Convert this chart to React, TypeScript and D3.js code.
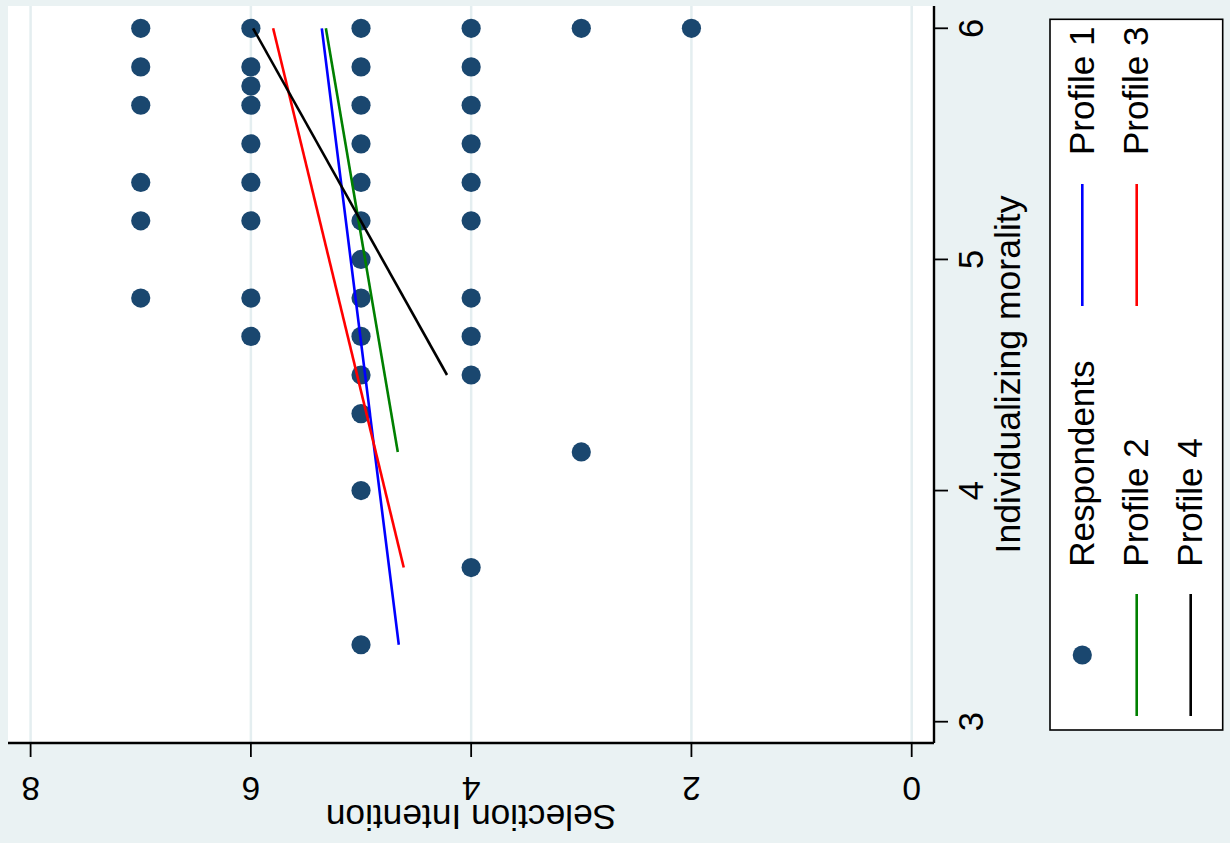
import React from "react";
import * as d3 from "d3";

const WIDTH = 1230;
const HEIGHT = 843;
const FONT = "'Liberation Sans', Arial, Helvetica, sans-serif";

// Respondents, grouped by selection intention score
const selectionLevels = [7, 6, 5, 4, 3, 2];
const moralityByLevel: number[][] = [
  [6, 5.833, 5.667, 5.333, 5.167, 4.833],
  [6, 5.833, 5.75, 5.667, 5.5, 5.333, 5.167, 4.833, 4.667],
  [6, 5.833, 5.667, 5.5, 5.333, 5.167, 5, 4.833, 4.667, 4.5, 4.333, 4, 3.333],
  [6, 5.833, 5.667, 5.5, 5.333, 5.167, 4.833, 4.667, 4.5, 3.667],
  [6, 4.167],
  [6],
];

// Fitted lines per profile: [morality, selection] at each end
const profileNames = ["Profile 1", "Profile 2", "Profile 3", "Profile 4"];
const profileColors = ["#0000ff", "#008000", "#ff0000", "#000000"];
const profileFits: [number, number][][] = [
  [[3.333, 4.657], [6, 5.356]],
  [[4.167, 4.666], [6, 5.319]],
  [[3.667, 4.612], [6, 5.798]],
  [[4.5, 4.219], [6, 5.98]],
];

const selectionTicks = [8, 6, 4, 2, 0];
const moralityTicks = [3, 4, 5, 6];

const BG = "#eaf2f3";
const GRID = "#e4eef0";
const MARKER = "#1a476f";

export default function App() {
  // plot region (rotated layout: selection runs right-to-left, morality bottom-to-top)
  const region = { left: 8, right: 934, top: 6, bottom: 743 };
  const x = d3.scaleLinear().domain([8, 0]).range([30.6, 911.7]);
  const y = d3.scaleLinear().domain([3, 6]).range([721.7, 28.3]);

  const respondents = selectionLevels.flatMap((s, i) =>
    moralityByLevel[i].map((m) => ({ s, m }))
  );

  const line = d3
    .line<[number, number]>()
    .x((d) => x(d[1]))
    .y((d) => y(d[0]));

  const midX = (region.left + region.right) / 2;
  const midY = (region.top + region.bottom) / 2;

  // legend: three columns, two slots each (top slot / bottom slot)
  const legend = { left: 1050, top: 19.3, right: 1222.7, bottom: 730 };
  const colX = [1082.3, 1136.7, 1190.7];
  const legendItems = [
    { label: "Respondents", col: 0, slot: 1, kind: "dot", color: MARKER },
    { label: profileNames[0], col: 0, slot: 0, kind: "line", color: profileColors[0] },
    { label: profileNames[1], col: 1, slot: 1, kind: "line", color: profileColors[1] },
    { label: profileNames[2], col: 1, slot: 0, kind: "line", color: profileColors[2] },
    { label: profileNames[3], col: 2, slot: 1, kind: "line", color: profileColors[3] },
  ];
  const slotKey = [
    { y0: 306, y1: 184, textY: 155 },
    { y0: 716, y1: 594, textY: 566.7 },
  ];

  return (
    <svg
      width={WIDTH}
      height={HEIGHT}
      style={{ position: "absolute", left: 0, top: 0, display: "block" }}
      fontFamily={FONT}
    >
      <rect x={0} y={0} width={WIDTH} height={HEIGHT} fill={BG} />
      <rect
        x={region.left}
        y={region.top}
        width={region.right - region.left}
        height={region.bottom - region.top}
        fill="#ffffff"
      />

      {/* gridlines */}
      {selectionTicks.map((t) => (
        <line
          key={"g" + t}
          x1={x(t)}
          x2={x(t)}
          y1={region.top}
          y2={region.bottom}
          stroke={GRID}
          strokeWidth={2.5}
        />
      ))}

      {/* respondents */}
      {respondents.map((d, i) => (
        <circle key={"p" + i} cx={x(d.s)} cy={y(d.m)} r={9.6} fill={MARKER} />
      ))}

      {/* fitted lines */}
      {profileFits.map((pts, i) => (
        <path
          key={"f" + i}
          d={line(pts) || ""}
          fill="none"
          stroke={profileColors[i]}
          strokeWidth={2.6}
        />
      ))}

      {/* bottom axis: selection intention */}
      <line
        x1={region.left}
        x2={region.right}
        y1={region.bottom}
        y2={region.bottom}
        stroke="#000"
        strokeWidth={2.4}
      />
      {selectionTicks.map((t) => (
        <g key={"xt" + t}>
          <line
            x1={x(t)}
            x2={x(t)}
            y1={region.bottom}
            y2={region.bottom + 14}
            stroke="#000"
            strokeWidth={1.8}
          />
          <text
            transform={`translate(${x(t)},777) rotate(180)`}
            textAnchor="middle"
            fontSize={33.5}
            fill="#000"
          >
            {t}
          </text>
        </g>
      ))}
      <text
        transform={`translate(${midX},805) rotate(180)`}
        textAnchor="middle"
        fontSize={35.3}
        fill="#000"
      >
        Selection Intention
      </text>

      {/* right axis: individualizing morality */}
      <line
        x1={region.right}
        x2={region.right}
        y1={region.top}
        y2={region.bottom}
        stroke="#000"
        strokeWidth={2.4}
      />
      {moralityTicks.map((t) => (
        <g key={"yt" + t}>
          <line
            x1={region.right}
            x2={region.right + 14}
            y1={y(t)}
            y2={y(t)}
            stroke="#000"
            strokeWidth={1.8}
          />
          <text
            transform={`translate(983.3,${y(t)}) rotate(-90)`}
            textAnchor="middle"
            fontSize={34.5}
            fill="#000"
          >
            {t}
          </text>
        </g>
      ))}
      <text
        transform={`translate(1020,${midY}) rotate(-90)`}
        textAnchor="middle"
        fontSize={35.6}
        fill="#000"
      >
        Individualizing morality
      </text>

      {/* legend */}
      <rect
        x={legend.left}
        y={legend.top}
        width={legend.right - legend.left}
        height={legend.bottom - legend.top}
        fill="#ffffff"
        stroke="#000"
        strokeWidth={1.6}
      />
      {legendItems.map((it) => {
        const cx = colX[it.col];
        const s = slotKey[it.slot];
        return (
          <g key={it.label}>
            {it.kind === "dot" ? (
              <circle cx={cx} cy={(s.y0 + s.y1) / 2} r={9.6} fill={it.color} />
            ) : (
              <line
                x1={cx}
                x2={cx}
                y1={s.y0}
                y2={s.y1}
                stroke={it.color}
                strokeWidth={2.6}
              />
            )}
            <text
              transform={`translate(${cx + 11.7},${s.textY}) rotate(-90)`}
              textAnchor="start"
              fontSize={35}
              fill="#000"
            >
              {it.label}
            </text>
          </g>
        );
      })}
    </svg>
  );
}
